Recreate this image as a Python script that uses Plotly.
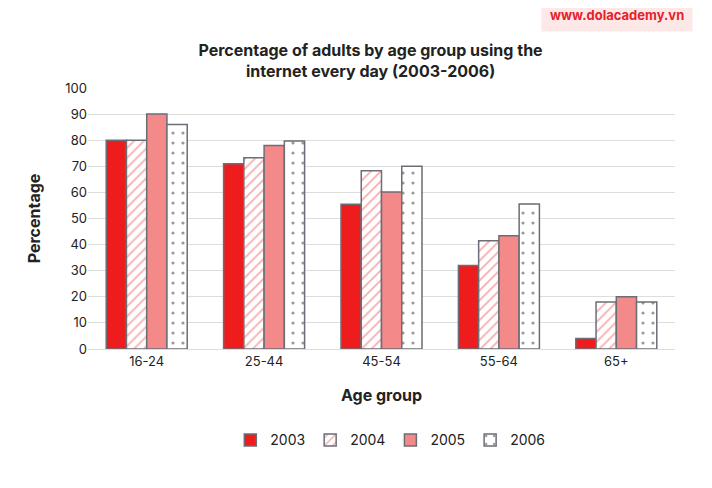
import plotly.graph_objects as go

age_groups = ["16-24", "25-44", "45-54", "55-64", "65+"]
years = ["2003", "2004", "2005", "2006"]
values = {
    "2003": [80, 71, 55.5, 32, 4],
    "2004": [80, 73.3, 68.3, 41.5, 18],
    "2005": [90, 78, 60.2, 43.4, 20],
    "2006": [86, 79.7, 70, 55.6, 18],
}

styles = {
    "2003": dict(color="#ee1c1c", pattern=dict(shape="")),
    "2004": dict(color="white", pattern=dict(shape="/", fgcolor="#f0595c", bgcolor="white", size=7, solidity=0.25)),
    "2005": dict(color="#f4898a", pattern=dict(shape="")),
    "2006": dict(color="white", pattern=dict(shape=".", fgcolor="#333333", bgcolor="white", size=10, solidity=0.08)),
}

fig = go.Figure()
for y in years:
    s = styles[y]
    fig.add_trace(go.Bar(
        x=age_groups, y=values[y], name=y,
        marker=dict(color=s["color"], pattern=s["pattern"],
                    line=dict(color="#6b6e76", width=1.5)),
    ))

# page adds ~8px body margin, so size is a bit smaller than the window
fig.update_layout(
    width=704, height=480,
    barmode="group", bargap=0.31, bargroupgap=0,
    plot_bgcolor="white", paper_bgcolor="white",
    font=dict(family="Inter", color="#222222", size=13),
    title=dict(text="<b>Percentage of adults by age group using the<br>internet every day (2003-2006)</b>",
               x=0.515, xanchor="center", y=0.9, yanchor="middle", font=dict(size=16)),
    margin=dict(l=80, r=37, t=80, b=139),
    legend=dict(orientation="h", x=0.515, xanchor="center", y=-0.35, yanchor="middle",
                font=dict(size=14, family="Inter"), itemwidth=30, traceorder="normal"),
    annotations=[dict(text="<b>www.dolacademy.vn</b>", xref="paper", yref="paper",
                      x=1.03, y=1.28, xanchor="right", yanchor="middle", showarrow=False,
                      font=dict(color="#e8202a", size=13), bgcolor="#fde8e8", borderpad=8)],
)
fig.update_yaxes(range=[0, 100], dtick=10, showgrid=True, gridcolor="#dddddd", automargin=False,
                 zeroline=False, title=dict(text="<b>Percentage</b>", font=dict(size=16), standoff=20),
                 ticks="", tickfont=dict(size=13))
fig.update_xaxes(showline=True, linecolor="#dddddd", automargin=False,
                 title=dict(text="<b>Age group</b>", font=dict(size=16), standoff=22),
                 tickfont=dict(size=13))

fig.write_html("out.html")
